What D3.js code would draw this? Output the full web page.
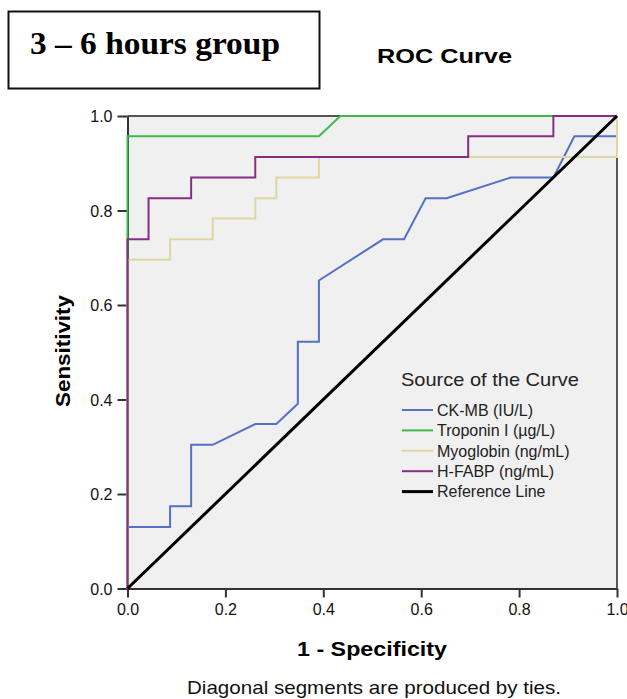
<!DOCTYPE html>
<html>
<head>
<meta charset="utf-8">
<script src="https://d3js.org/d3.v7.min.js"></script>
<style>
  body { margin: 0; background: #fff; }
  svg { display: block; }
</style>
</head>
<body>
<div id="chart"></div>
<script>
// ROC points (x = 1 - specificity, y = sensitivity)
var ckmbX = [0, 0, 0.087, 0.087, 0.130, 0.130, 0.174, 0.261, 0.304, 0.348, 0.348, 0.391, 0.391, 0.522, 0.565, 0.609, 0.652, 0.783, 0.870, 0.913, 1.0, 1.0];
var ckmbY = [0, 0.130, 0.130, 0.174, 0.174, 0.304, 0.304, 0.348, 0.348, 0.391, 0.522, 0.522, 0.652, 0.739, 0.739, 0.826, 0.826, 0.870, 0.870, 0.957, 0.957, 1.0];

var tropX = [0, 0, 0.391, 0.435, 1.0];
var tropY = [0, 0.957, 0.957, 1.0, 1.0];

var myoX = [0, 0, 0.087, 0.087, 0.174, 0.174, 0.261, 0.261, 0.304, 0.304, 0.391, 0.391, 1.0, 1.0];
var myoY = [0, 0.696, 0.696, 0.739, 0.739, 0.783, 0.783, 0.826, 0.826, 0.870, 0.870, 0.913, 0.913, 1.0];

var hfabpX = [0, 0, 0.043, 0.043, 0.130, 0.130, 0.261, 0.261, 0.696, 0.696, 0.870, 0.870, 1.0];
var hfabpY = [0, 0.739, 0.739, 0.826, 0.826, 0.870, 0.870, 0.913, 0.913, 0.957, 0.957, 1.0, 1.0];

var refX = [0, 1];
var refY = [0, 1];

var seriesNames = ["CK-MB (IU/L)", "Troponin I (\u00b5g/L)", "Myoglobin (ng/mL)", "H-FABP (ng/mL)", "Reference Line"];
var seriesColors = ["#5670c4", "#3dba4c", "#ddd7a1", "#882d84", "#000000"];
var tickValues = [0, 0.2, 0.4, 0.6, 0.8, 1.0];

var W = 627, H = 699;
var plotLeft = 127.5, plotRight = 617, plotTop = 116, plotBottom = 588.5;

var svg = d3.select("#chart").append("svg")
  .attr("width", W)
  .attr("height", H);

// group label box
svg.append("rect")
  .attr("x", 8.5).attr("y", 11.5).attr("width", 311).attr("height", 77)
  .attr("fill", "none").attr("stroke", "#111").attr("stroke-width", 2);
svg.append("text")
  .attr("x", 30).attr("y", 53.5)
  .attr("style", "font-family:'Liberation Serif','Times New Roman',serif;font-size:31px;font-weight:bold")
  .attr("textLength", 250).attr("lengthAdjust", "spacingAndGlyphs")
  .text("3 \u2013 6 hours group");

svg.append("text")
  .attr("x", 377).attr("y", 62.5)
  .attr("style", "font-family:'Liberation Sans',Arial,sans-serif;font-size:21px;font-weight:bold")
  .attr("textLength", 135).attr("lengthAdjust", "spacingAndGlyphs")
  .text("ROC Curve");

var x = d3.scaleLinear().domain([0, 1]).range([plotLeft, plotRight]);
var y = d3.scaleLinear().domain([0, 1]).range([plotBottom, plotTop]);

// plot background
svg.append("rect")
  .attr("x", x(0)).attr("y", y(1))
  .attr("width", x(1) - x(0)).attr("height", y(0) - y(1))
  .attr("fill", "#f0f0f0");

// frame top/right
svg.append("line")
  .attr("x1", x(0)).attr("x2", x(1)).attr("y1", y(1)).attr("y2", y(1))
  .attr("stroke", "#555").attr("stroke-width", 2);
svg.append("line")
  .attr("x1", x(1)).attr("x2", x(1)).attr("y1", y(1)).attr("y2", y(0))
  .attr("stroke", "#222").attr("stroke-width", 1.5);

var xAxis = svg.append("g")
  .attr("transform", "translate(0," + y(0) + ")")
  .call(d3.axisBottom(x).tickValues(tickValues).tickFormat(d3.format(".1f"))
    .tickSize(9).tickSizeOuter(0).tickPadding(4));
var yAxis = svg.append("g")
  .attr("transform", "translate(" + x(0) + ",0)")
  .call(d3.axisLeft(y).tickValues(tickValues).tickFormat(d3.format(".1f"))
    .tickSize(10).tickSizeOuter(0).tickPadding(5));

[xAxis, yAxis].forEach(function(a) {
  a.select(".domain").attr("stroke", "#333").attr("stroke-width", 2);
  a.selectAll(".tick line").attr("stroke", "#333").attr("stroke-width", 2);
  a.selectAll(".tick text")
    .attr("fill", "#111")
    .attr("style", "font-family:'Liberation Sans',Arial,sans-serif;font-size:16px");
});
yAxis.selectAll(".tick text").attr("dy", "0.36em");
xAxis.selectAll(".tick text").attr("dy", "0.85em");

// curves
var curves = [
  { xs: ckmbX, ys: ckmbY, w: 2 },
  { xs: tropX, ys: tropY, w: 2 },
  { xs: myoX, ys: myoY, w: 2 },
  { xs: hfabpX, ys: hfabpY, w: 2 },
  { xs: refX, ys: refY, w: 3 }
];

var line = d3.line()
  .x(function(d) { return x(d[0]); })
  .y(function(d) { return y(d[1]); });

svg.selectAll("path.curve")
  .data(curves)
  .enter().append("path")
  .attr("class", "curve")
  .attr("d", function(d) {
    return line(d.xs.map(function(v, i) { return [v, d.ys[i]]; }));
  })
  .attr("fill", "none")
  .attr("stroke", function(d, i) { return seriesColors[i]; })
  .attr("stroke-width", function(d) { return d.w; })
  .attr("stroke-linejoin", "miter");

// legend
svg.append("text")
  .attr("x", 401).attr("y", 386)
  .attr("fill", "#222")
  .attr("style", "font-family:'Liberation Sans',Arial,sans-serif;font-size:19px")
  .attr("textLength", 178).attr("lengthAdjust", "spacingAndGlyphs")
  .text("Source of the Curve");

var legend = svg.selectAll("g.leg")
  .data(seriesNames)
  .enter().append("g")
  .attr("class", "leg")
  .attr("transform", function(d, i) { return "translate(402," + (410 + i * 20.4) + ")"; });

legend.append("line")
  .attr("x1", 0).attr("x2", 31).attr("y1", 0).attr("y2", 0)
  .attr("stroke", function(d, i) { return seriesColors[i]; })
  .attr("stroke-width", function(d, i) { return i == 4 ? 3 : 2; });

legend.append("text")
  .attr("x", 35).attr("y", 0).attr("dy", "0.36em")
  .attr("fill", "#222")
  .attr("style", "font-family:'Liberation Sans',Arial,sans-serif;font-size:16px")
  .text(function(d) { return d; });

// axis titles
svg.append("text")
  .attr("x", 297).attr("y", 656)
  .attr("style", "font-family:'Liberation Sans',Arial,sans-serif;font-size:21px;font-weight:bold")
  .attr("textLength", 150).attr("lengthAdjust", "spacingAndGlyphs")
  .text("1 - Specificity");

svg.append("text")
  .attr("transform", "translate(70,351) rotate(-90)")
  .attr("text-anchor", "middle")
  .attr("style", "font-family:'Liberation Sans',Arial,sans-serif;font-size:20px;font-weight:bold")
  .attr("textLength", 112).attr("lengthAdjust", "spacingAndGlyphs")
  .text("Sensitivity");

svg.append("text")
  .attr("x", 187).attr("y", 694)
  .attr("fill", "#111")
  .attr("style", "font-family:'Liberation Sans',Arial,sans-serif;font-size:19px")
  .attr("textLength", 374).attr("lengthAdjust", "spacingAndGlyphs")
  .text("Diagonal segments are produced by ties.");
</script>
</body>
</html>
